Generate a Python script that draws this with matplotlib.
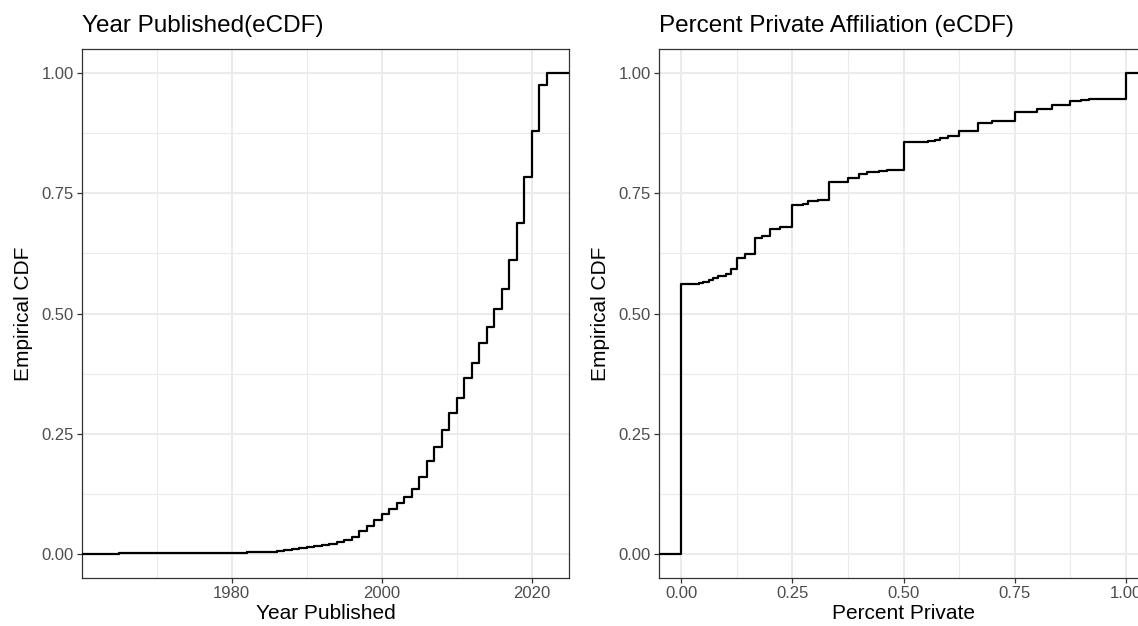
import matplotlib
matplotlib.use("Agg")
import matplotlib.pyplot as plt
from matplotlib.ticker import FixedLocator, FormatStrFormatter

plt.rcParams['font.family'] = ['Liberation Sans', 'DejaVu Sans']

# eCDF of publication year (value after each step)
years = [1963, 1965, 1970, 1975, 1978, 1980, 1982, 1984, 1986, 1987, 1988, 1989,
         1990, 1991, 1992, 1993, 1994, 1995, 1996, 1997, 1998, 1999, 2000, 2001,
         2002, 2003, 2004, 2005, 2006, 2007, 2008, 2009, 2010, 2011, 2012, 2013,
         2014, 2015, 2016, 2017, 2018, 2019, 2020, 2021, 2022]
year_cdf = [0.0005, 0.001, 0.0015, 0.002, 0.0025, 0.003, 0.004, 0.005, 0.007, 0.008,
            0.010, 0.012, 0.014, 0.016, 0.018, 0.021, 0.024, 0.028, 0.035, 0.047,
            0.059, 0.070, 0.083, 0.093, 0.106, 0.118, 0.135, 0.161, 0.194, 0.222,
            0.258, 0.294, 0.325, 0.365, 0.397, 0.439, 0.472, 0.510, 0.551, 0.611,
            0.688, 0.783, 0.879, 0.975, 1.0]

# eCDF of share of private affiliation
private = [0.0, 0.04, 0.05, 0.0625, 0.071, 0.083, 0.1, 0.111, 0.125, 0.143, 0.167,
           0.182, 0.2, 0.222, 0.25, 0.273, 0.286, 0.308, 0.333, 0.375, 0.4, 0.417,
           0.444, 0.462, 0.5, 0.556, 0.571, 0.583, 0.6, 0.625, 0.667, 0.7, 0.75,
           0.8, 0.833, 0.875, 0.9, 0.917, 0.929, 1.0]
private_cdf = [0.561, 0.563, 0.566, 0.569, 0.573, 0.577, 0.583, 0.592, 0.616, 0.623,
               0.657, 0.661, 0.676, 0.680, 0.725, 0.728, 0.733, 0.736, 0.773, 0.781,
               0.791, 0.794, 0.797, 0.798, 0.857, 0.858, 0.860, 0.864, 0.869, 0.879,
               0.896, 0.901, 0.920, 0.925, 0.933, 0.942, 0.943, 0.945, 0.946, 1.0]

y_major = [0, 0.25, 0.5, 0.75, 1.0]
y_minor = [0.125, 0.375, 0.625, 0.875]

grid_col = '#EBEBEB'
text_col = '#4D4D4D'
border_col = '#333333'


def expand(lo, hi, mult=0.05):
    r = hi - lo
    return lo - mult * r, hi + mult * r


def ecdf_panel(ax, x, y, title, xlabel, x_major, x_minor, xfmt):
    lo, hi = expand(min(x), max(x))
    ax.set_xlim(lo, hi)
    ax.set_ylim(-0.05, 1.05)
    # pad the step line out to the panel edges
    ax.step([lo] + x + [hi], [0] + y + [1], where='post', color='black', lw=1.6,
            zorder=3)

    for v in x_minor:
        ax.axvline(v, color=grid_col, lw=0.8, zorder=1)
    for v in x_major:
        ax.axvline(v, color=grid_col, lw=1.5, zorder=1)
    for v in y_minor:
        ax.axhline(v, color=grid_col, lw=0.8, zorder=1)
    for v in y_major:
        ax.axhline(v, color=grid_col, lw=1.5, zorder=1)

    ax.xaxis.set_major_locator(FixedLocator(x_major))
    ax.yaxis.set_major_locator(FixedLocator(y_major))
    ax.xaxis.set_major_formatter(FormatStrFormatter(xfmt))
    ax.yaxis.set_major_formatter(FormatStrFormatter('%.2f'))
    ax.tick_params(length=3.6, width=0.9, color=border_col, labelcolor=text_col,
                   labelsize=12, pad=2.5)
    for s in ax.spines.values():
        s.set_color(border_col)
        s.set_linewidth(0.9)

    ax.set_title(title, loc='left', fontsize=17.5, pad=12, color='black')
    ax.set_xlabel(xlabel, fontsize=15, labelpad=2)
    ax.set_ylabel('Empirical CDF', fontsize=15, labelpad=6)


fig = plt.figure(figsize=(11.38, 6.26), dpi=100)
ax1 = fig.add_axes([82 / 1138, 48 / 626, 487 / 1138, 529 / 626])
ax2 = fig.add_axes([659 / 1138, 48 / 626, 489 / 1138, 529 / 626])

ecdf_panel(ax1, years, year_cdf, 'Year Published(eCDF)', 'Year Published',
           [1980, 2000, 2020], [1970, 1990, 2010], '%d')
ecdf_panel(ax2, private, private_cdf, 'Percent Private Affiliation (eCDF)',
           'Percent Private', [0, 0.25, 0.5, 0.75, 1.0], [0.125, 0.375, 0.625, 0.875],
           '%.2f')

fig.savefig('out.png', dpi=100)
